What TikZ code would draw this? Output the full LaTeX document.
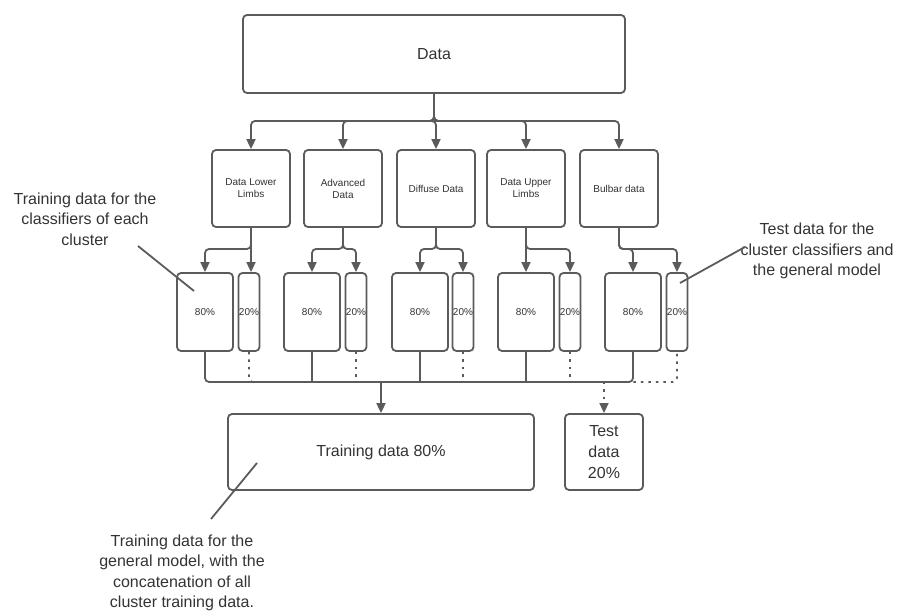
\documentclass[tikz,border=0pt]{standalone}
\usepackage{fontspec}
\setmainfont{Liberation Sans}
\usetikzlibrary{arrows.meta}
\definecolor{edge}{HTML}{5B5B5B}
\definecolor{ink}{HTML}{333333}

\tikzset{
  box/.style={draw=edge, line width=1.8pt, rounded corners=4pt, fill=white,
              text=ink, inner sep=0pt, align=center},
  bigtext/.style={font=\fontsize{16}{21}\selectfont},
  smalltext/.style={font=\fontsize{10}{12}\selectfont},
  link/.style={draw=edge, line width=1.8pt},
  arr/.style={link, -{Triangle[length=10pt,width=9pt]}},
  dots/.style={draw=edge, line width=1.6pt, dash pattern=on 2.5pt off 5pt},
  dotarr/.style={dots, -{Triangle[length=10pt,width=9pt]}},
  note/.style={text=ink, align=center, inner sep=0pt,
               font=\fontsize{16}{20.5}\selectfont},
  pointer/.style={draw=edge, line width=1.8pt},
  cluster/.style={box, smalltext, minimum width=78pt, minimum height=77pt},
  trainpart/.style={box, smalltext, minimum width=56pt, minimum height=78pt},
  testpart/.style={box, smalltext, minimum width=21pt, minimum height=78pt},
}

\begin{document}
\begin{tikzpicture}[x=1pt,y=-1pt]
\useasboundingbox (0,0) rectangle (906,612);

% source data
\node[box, bigtext, minimum width=382pt, minimum height=78pt] (data) at (434,54) {Data};

% clusters
\node[cluster] (c1) at (251,188.5) {Data Lower\\Limbs};
\node[cluster] (c2) at (343,188.5) {Advanced\\Data};
\node[cluster] (c3) at (436,188.5) {Diffuse Data};
\node[cluster] (c4) at (526,188.5) {Data Upper\\Limbs};
\node[cluster] (c5) at (619,188.5) {Bulbar data};

% 80 / 20 splits per cluster
\node[trainpart] (p1) at (205,312) {80\%};
\node[testpart]  (q1) at (249,312) {20\%};
\node[trainpart] (p2) at (312,312) {80\%};
\node[testpart]  (q2) at (356,312) {20\%};
\node[trainpart] (p3) at (420,312) {80\%};
\node[testpart]  (q3) at (463,312) {20\%};
\node[trainpart] (p4) at (526,312) {80\%};
\node[testpart]  (q4) at (570,312) {20\%};
\node[trainpart] (p5) at (633,312) {80\%};
\node[testpart]  (q5) at (677,312) {20\%};

% merged sets
\node[box, bigtext, minimum width=306pt, minimum height=76pt] (train) at (381,452) {Training data 80\%};
\node[box, bigtext, minimum width=78pt, minimum height=76pt] (test) at (604,452) {Test\\data\\20\%};

% routing levels
\coordinate (topbus) at (0,121);
\coordinate (split) at (0,249);
\coordinate (bus) at (0,382);

% data -> clusters
\foreach \c in {c1,c2,c3,c4,c5}
  \draw[arr, rounded corners=4pt] (data.south) -- (data.south |- topbus) -| (\c.north);

% clusters -> splits
\draw[arr, rounded corners=4pt] (c1.south) -- (c1.south |- split) -| (p1.north);
\draw[arr] (c1.south) -- (c1.south |- q1.north);
\foreach \c/\p/\q in {c2/p2/q2, c3/p3/q3, c5/p5/q5} {
  \draw[arr, rounded corners=4pt] (\c.south) -- (\c.south |- split) -| (\p.north);
  \draw[arr, rounded corners=4pt] (\c.south) -- (\c.south |- split) -| (\q.north);
}
\draw[arr] (c4.south) -- (p4.north);
\draw[arr, rounded corners=4pt] (c4.south) -- (c4.south |- split) -| (q4.north);

% test parts gathered (dotted)
\draw[dots, rounded corners=4pt] (q1.south) |- (q5.south |- bus) -- (q5.south);
\foreach \q in {q2,q3,q4}
  \draw[dots] (\q.south) -- (\q.south |- bus);

% training parts gathered
\draw[link, rounded corners=4pt] (p1.south) |- (p5.south |- bus) -- (p5.south);
\foreach \p in {p2,p3,p4}
  \draw[link] (\p.south) -- (\p.south |- bus);

\draw[arr] (train.north |- bus) -- (train.north);
\draw[dotarr] (test.north |- bus) -- (test.north);

% annotations
\node[note] (n1) at (85,219) {Training data for the\\classifiers of each\\cluster};
\node[note] (n2) at (817,251) {Test data for the\\cluster classifiers and\\the general model};
\node[note] (n3) at (182,573) {Training data for the\\general model, with the\\concatenation of all\\cluster training data.};

\coordinate (n1a) at (138,246);
\coordinate (n1b) at (194,291);
\coordinate (n2a) at (745,247);
\coordinate (n2b) at (680,283);
\coordinate (n3a) at (211,519);
\coordinate (n3b) at (257,463);
\draw[pointer] (n1a) -- (n1b);
\draw[pointer] (n2a) -- (n2b);
\draw[pointer] (n3a) -- (n3b);
\end{tikzpicture}
\end{document}
